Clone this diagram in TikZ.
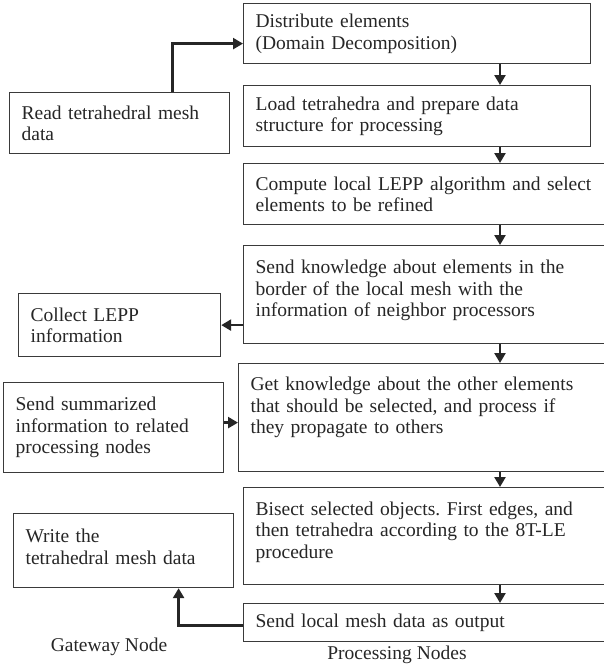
\documentclass[tikz,border=0pt]{standalone}
\usepackage{fontspec}
\setmainfont{Liberation Serif}
\usetikzlibrary{arrows.meta,calc}
\definecolor{ink}{HTML}{262626}
\definecolor{frame}{HTML}{3A3A3A}
\tikzset{
  stepbox/.style={draw=frame, line width=1.2pt, anchor=north west, align=left,
    inner xsep=12pt, inner ysep=4pt, text=ink,
    font=\fontsize{19.5pt}{21.5pt}\selectfont},
  flow/.style={draw=ink, line width=2.6pt,
    -{Triangle[width=11pt,length=10pt]}},
  caption/.style={text=ink, font=\fontsize{19.5pt}{21.5pt}\selectfont}
}
\frenchspacing
\begin{document}
\begin{tikzpicture}[x=1pt,y=-1pt]
  \useasboundingbox (0,0) rectangle (604,667);
  % gateway node column
  \node[stepbox, text width=196pt, minimum height=61pt] (read) at (9,92)
    {Read tetrahedral mesh\\data};
  \node[stepbox, text width=178pt, minimum height=63pt] (collect) at (18,293)
    {Collect LEPP\\information};
  \node[stepbox, text width=196pt, minimum height=90pt] (summ) at (3,382)
    {Send summarized\\information to related\\processing nodes};
  \node[stepbox, text width=196pt, minimum height=74pt] (write) at (13,513)
    {Write the\\tetrahedral mesh data\par\vspace{8pt}};
  % processing node column
  \node[stepbox, text width=323pt, minimum height=60pt] (dist) at (243,3)
    {Distribute elements\\(Domain Decomposition)};
  \node[stepbox, text width=323pt, minimum height=61pt] (load) at (243,85)
    {\makebox[295pt][s]{Load tetrahedra and prepare data}\\structure for processing};
  \node[stepbox, text width=345pt, minimum height=61pt] (lepp) at (243,163)
    {Compute local LEPP algorithm and select\\elements to be refined};
  \node[stepbox, text width=345pt, minimum height=98pt] (know) at (243,245)
    {Send knowledge about elements in the\\border of the local mesh with the\\information of neighbor processors\par\vspace{8pt}};
  \node[stepbox, text width=350pt, minimum height=108pt] (get) at (238,363)
    {Get knowledge about the other elements\\that should be selected, and process if\\they propagate to others\par\vspace{20pt}};
  \node[stepbox, text width=345pt, minimum height=97pt] (bisect) at (243,487)
    {Bisect selected objects. First edges, and\\then tetrahedra according to the 8T-LE\\procedure\par\vspace{8pt}};
  \node[stepbox, text width=345pt, minimum height=38pt] (out) at (243,603)
    {Send local mesh data as output};
  % column captions
  \node[caption] (gw) at (109,647) {Gateway Node};
  \node[caption] (pn) at (397,655) {Processing Nodes};
  % connectors
  \coordinate (ax) at (500,0);
  \draw[flow] (dist.south -| ax) -- (load.north -| ax);
  \draw[flow] (load.south -| ax) -- (lepp.north -| ax);
  \draw[flow] (lepp.south -| ax) -- (know.north -| ax);
  \draw[flow] (know.south -| ax) -- (get.north -| ax);
  \draw[flow] (get.south -| ax) -- (bisect.north -| ax);
  \draw[flow] (bisect.south -| ax) -- (out.north -| ax);
  \draw[flow] ([xshift=53pt]read.north) |- ([yshift=-10pt]dist.west);
  \draw[flow] (collect.east -| know.west) -- (collect.east);
  \draw[flow] ([yshift=5pt]summ.east) -- ([yshift=5pt]summ.east -| get.west);
  \draw[flow] ([yshift=-3pt]out.west) -| ([xshift=55pt]write.south);
\end{tikzpicture}
\end{document}
